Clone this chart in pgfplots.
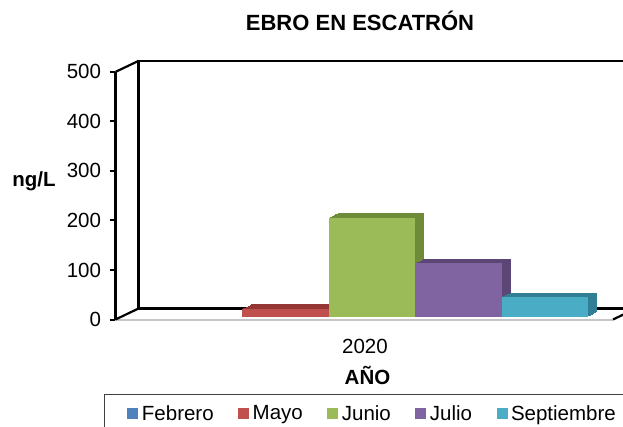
\documentclass[border=0pt]{standalone}
\usepackage{pgfplots}
\pgfplotsset{compat=1.18}
\usepackage{fontspec}
\setmainfont{Liberation Sans}
\definecolor{cFeb}{HTML}{4F81BD}
\definecolor{cMay}{HTML}{C0504D}
\definecolor{cJun}{HTML}{9BBB59}
\definecolor{cJul}{HTML}{8064A2}
\definecolor{cSep}{HTML}{4BACC6}
\definecolor{dMay}{HTML}{943634}
\definecolor{dJun}{HTML}{6F8A38}
\definecolor{dJul}{HTML}{5C4676}
\definecolor{dSep}{HTML}{317F94}
\begin{document}
\begin{tikzpicture}
\useasboundingbox (0,0) rectangle (623pt,426pt);
\clip (0,0) rectangle (623pt,426pt);
\pgfplotsset{
  base/.style={scale only axis, width=497.5pt, height=247.6pt,
    xmin=-2.884, xmax=2.867, ymin=0, ymax=500, anchor=south west, clip=false},
  barax/.style={base, hide axis, ybar, bar width=1},
}
% back wall
\begin{axis}[base, name=back, at={(138.5pt,117.5pt)}, xtick=\empty, ytick=\empty,
  axis line style={black, line width=2.2pt}]
\end{axis}
% depth (top and side faces) of the bars: the front face swept back in depth
\foreach \t in {1,0.875,0.75,0.625,0.5,0.375,0.25,0.125}{
\begin{axis}[barax, at={(122.5pt+9pt*\t,109.3pt+4.3pt*\t)}]
\addplot[fill=dMay, draw=none, bar shift=0pt] coordinates {(-1,16)};
\addplot[fill=dJun, draw=none, bar shift=0pt] coordinates {(0,200)};
\addplot[fill=dJul, draw=none, bar shift=0pt] coordinates {(1,108)};
\addplot[fill=dSep, draw=none, bar shift=0pt] coordinates {(2,40)};
\end{axis}
}
% front faces of the bars
\begin{axis}[barax, at={(122.5pt,109.3pt)},
  legend style={at={(-0.0373,-0.3117)}, anchor=north west, draw=black!75, line width=1pt,
    inner xsep=23pt, inner ysep=9pt, font=\fontsize{20.5}{24}\selectfont,
    legend columns=-1, nodes={inner sep=2pt},
    /tikz/every odd column/.append style={column sep=1.5pt},
    /tikz/every even column/.append style={column sep=22.5pt}},
  legend image code/.code={\fill[#1,draw=none] (0pt,-5.5pt) rectangle (11pt,5.5pt);}]
\addlegendimage{fill=cFeb, draw=none}
\addlegendentry{Febrero}
\addplot[fill=cMay, draw=none, bar shift=0pt] coordinates {(-1,16)};
\addlegendentry{Mayo}
\addplot[fill=cJun, draw=none, bar shift=0pt] coordinates {(0,200)};
\addlegendentry{Junio}
\addplot[fill=cJul, draw=none, bar shift=0pt] coordinates {(1,108)};
\addlegendentry{Julio}
\addplot[fill=cSep, draw=none, bar shift=0pt] coordinates {(2,40)};
\addlegendentry{Septiembre}
\end{axis}
% front frame with ticks and labels
\begin{axis}[base, name=front, at={(115.5pt,106.5pt)},
  axis lines*=left,
  x axis line style={gray!45, line width=2pt},
  y axis line style={black, line width=2.2pt},
  ytick={0,100,200,300,400,500},
  ytick align=outside, major tick length=6pt,
  ytick style={black, line width=2pt},
  yticklabel style={xshift=-5pt},
  xtick={0}, xticklabels={2020}, xtick style={draw=none},
  xticklabel style={anchor=base, yshift=-33.5pt},
  tick label style={font=\fontsize{20.5}{24}\selectfont},
  /pgf/number format/assume math mode=true,
  title={EBRO EN ESCATRÓN},
  title style={font=\fontsize{22}{26}\selectfont\bfseries, at={(0.4915,1.1446)}, anchor=base},
  ylabel={ng/L},
  ylabel style={rotate=-90, font=\fontsize{20.5}{24}\selectfont\bfseries, at={(-0.1638,0.539)}, anchor=base},
  xlabel={AÑO},
  xlabel style={font=\fontsize{20.5}{24}\selectfont\bfseries, at={(0.5065,-0.2645)}, anchor=base},
]
\end{axis}
\draw[black, line width=2.2pt] (front.north west) -- (back.north west);
\draw[black, line width=2.2pt] (front.south west) -- (back.south west);
\draw[black, line width=2.2pt] (front.south east) -- (back.south east);
\end{tikzpicture}
\end{document}
